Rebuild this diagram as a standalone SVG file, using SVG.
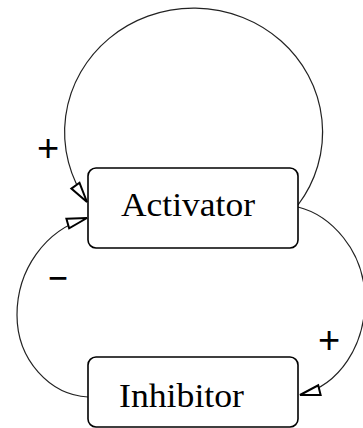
<svg xmlns="http://www.w3.org/2000/svg" width="363" height="428" viewBox="0 0 363 428">
<style>
.box{fill:#fff;stroke:#000;stroke-width:1.6}
.name{font-family:"Liberation Serif","Times New Roman",serif;font-size:34px;fill:#000}
.sign{font-family:"Liberation Sans",Arial,sans-serif;font-size:38px;fill:#000;text-anchor:middle}
.edge{fill:none;stroke:#222;stroke-width:1.2}
</style>
<defs>
<marker id="arr" markerUnits="userSpaceOnUse" markerWidth="24" markerHeight="14" viewBox="0 0 24 14" refX="22" refY="7" orient="auto">
<path d="M2,2 L22,7 L2,12 Z" fill="#fff" stroke="#000" stroke-width="2" stroke-linejoin="miter"/>
</marker>
</defs>
<rect width="363" height="428" fill="#fff"/>
<g id="connectors">
<path class="edge" d="M298,205 A129,124 0 1 0 87,202" marker-end="url(#arr)"/>
<path class="edge" d="M298,207 C330,215 365,250 365,300 C365,345 340,385 300,395" marker-end="url(#arr)"/>
<path class="edge" d="M88,397 C50,395 17,360 17,315 C17,270 45,230 87,218" marker-end="url(#arr)"/>
<text class="sign" x="48" y="161">+</text>
<text class="sign" x="329" y="353">+</text>
<text class="sign" x="58" y="291" textLength="20" lengthAdjust="spacingAndGlyphs">−</text>
</g>
<g id="activator">
<rect class="box" x="88" y="168" width="210" height="80" rx="8"/>
<text class="name" x="121" y="216" textLength="134" lengthAdjust="spacingAndGlyphs">Activator</text>
</g>
<g id="inhibitor">
<rect class="box" x="88" y="357" width="210" height="70" rx="8"/>
<text class="name" x="119" y="407" textLength="125" lengthAdjust="spacingAndGlyphs">Inhibitor</text>
</g>
</svg>
